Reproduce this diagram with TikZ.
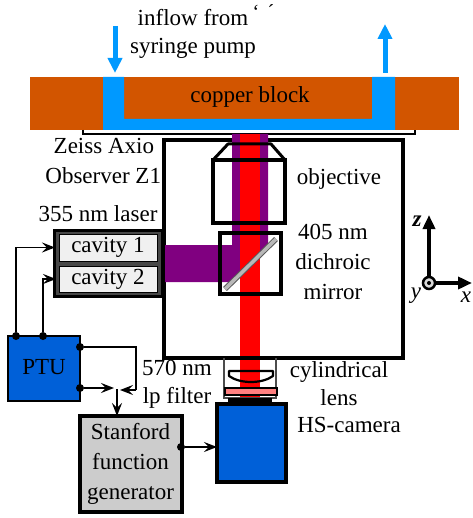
\documentclass[tikz,border=0pt]{standalone}
\usepackage{fontspec}
\setmainfont{Liberation Serif}
\usetikzlibrary{arrows.meta,calc}
\definecolor{copperc}{HTML}{D25500}
\definecolor{chanc}{HTML}{0099FF}
\definecolor{beamp}{HTML}{800080}
\definecolor{camblue}{HTML}{0060D8}
\definecolor{pinkf}{HTML}{FF8080}
\tikzset{
  x=1pt,y=-1pt,
  every node/.style={font=\fontsize{23}{25}\selectfont,inner sep=0pt,outer sep=0pt,text=black},
  lbl/.style={anchor=center},
  sig/.style={line width=1.6pt,draw=black,-{Stealth[length=13pt,width=10pt,inset=5pt]}},
  wire/.style={line width=1.6pt,draw=black},
  flow/.style={line width=5pt,draw=chanc,-{Stealth[length=15pt,width=14pt,inset=0pt]}},
  thick box/.style={draw=black,line width=3.5pt},
  hub/.style={circle,fill=black,minimum size=8pt},
  axisl/.style={line width=3.5pt,draw=black,-{Stealth[length=14pt,width=12pt,inset=0pt]}},
  cavity/.style={draw=black,line width=1pt,fill=black!6,minimum width=98pt}
}
\begin{document}
\begin{tikzpicture}
\useasboundingbox (0,0) rectangle (472,518);
\fill[white] (0,0) rectangle (472,518);
% copper block and channel
\fill[copperc] (30,77) rectangle (459,130);
\fill[chanc] (103,77) -- (124,77) -- (124,119) -- (372,119) -- (372,77) -- (395,77) -- (395,130) -- (103,130) -- cycle;
\node[lbl] (copper) at (250,97) {copper block};
\draw[line width=1.6pt] (83,130) -- (83,134) -- (415,134) -- (415,130);
% flow arrows
\coordinate (inA) at (115,26); \coordinate (inB) at (115,73);
\coordinate (outA) at (385,73); \coordinate (outB) at (385,24);
\draw[flow] (inA) -- (inB);
\draw[flow] (outA) -- (outB);
\node[lbl] (inflow) at (193,18) {inflow from};
\node[lbl] (syringe) at (193,48) {syringe pump};
\node[font=\fontsize{20}{20}\selectfont] (tickl) at (256,12) {`};
\node[font=\fontsize{20}{20}\selectfont] (tickr) at (271,12) {´};
% microscope box
\node[draw=black,line width=3.5pt,minimum width=239pt,minimum height=218pt] (scope) at (283.5,249) {};
% beams
\fill[beamp] (232,134) -- (268,134) -- (268,247) -- (232,282) -- (165,282) -- (165,245) -- (232,245) -- cycle;
\fill[red] (240,134) rectangle (260,398);
\draw[line width=3.5pt] (scope.south west) -- (scope.south east);
% objective
\node[thick box,minimum width=72pt,minimum height=63pt] (obj) at (249,191.5) {};
\draw[line width=3pt,line join=round] (obj.north west) -- (228,144) -- (271,144) -- (obj.north east);
% mirror
\node[thick box,minimum width=61pt,minimum height=61pt] (mirror) at (250.5,263.5) {};
\draw[line width=5.5pt,draw=black!65] (225,289) -- (276,239);
\draw[line width=3.5pt,draw=black!28] (225,289) -- (276,239);
% laser
\node[draw=black,line width=3pt,fill=black!72,minimum width=108pt,minimum height=66pt] (laser) at (108,263) {};
\node[cavity,minimum height=27pt] (cav1) at (108,247.5) {cavity 1};
\node[cavity,minimum height=26pt] (cav2) at (108,279) {\raisebox{3pt}{cavity 2}};
\node[lbl] (l355) at (98,214) {355 nm laser};
% housing, lens, filter
\draw[line width=1.2pt,draw=black!70] (224,358) -- (224,398) -- (276,398) -- (276,358);
\draw[line width=2.2pt,line join=round] (229,371) -- (273,371) -- (273,376) .. controls (262,384) and (240,384) .. (229,376) -- cycle;
\draw[line width=1.4pt,fill=pinkf] (225,388) rectangle (277,395);
\fill[black] (228,398) rectangle (272,404);
% camera
\node[draw=black,line width=4pt,fill=camblue,minimum width=69pt,minimum height=78pt] (cam) at (251.5,443) {};
% PTU
\node[draw=black,line width=1.5pt,fill=camblue,minimum width=72pt,minimum height=65pt] (ptu) at (44,368.5) {\raisebox{3.5pt}{PTU}};
% Stanford
\node[draw=black,line width=4pt,fill=black!20,minimum width=102pt,minimum height=96pt,align=center,font=\fontsize{23}{30}\selectfont] (sfg) at (130.5,464) {Stanford\\function\\generator};
% hubs
\node[hub] (p1) at (16,336) {};
\node[hub] (p2) at (43,336) {};
\node[hub] (p3) at (80,347) {};
\node[hub] (p4) at (80,388) {};
\node[hub] (s1) at (181,447) {};
\coordinate (bend) at (136,390);
\coordinate (merge) at (117,389);
% connectors
\draw[sig,shorten >=4pt] (p1) |- (cav1.west);
\draw[sig,shorten >=3pt] (p2) |- (cav2.west);
\draw[wire] (p3) -| (bend);
\draw[sig] (bend) -- (120,390);
\draw[sig] (p4) -- (114,388);
\draw[sig] (merge) -- (sfg.north -| merge);
\draw[sig] (s1) -- (s1 -| cam.west);
% labels
\node[lbl,anchor=east] (zeiss) at (154,146) {Zeiss Axio};
\node[lbl,anchor=east] (obs) at (161,176) {Observer Z1};
\node[lbl] (objl) at (339,179) {objective};
\node[lbl] (m1) at (333,232) {405 nm};
\node[lbl] (m2) at (333,262) {dichroic};
\node[lbl] (m3) at (333,292) {mirror};
\node[lbl] (f1) at (177,368) {570 nm};
\node[lbl] (f2) at (177,398) {lp filter};
\node[lbl] (c1) at (339,372) {cylindrical};
\node[lbl] (c2) at (339,398) {lens};
\node[lbl] (c3) at (349,425) {HS-camera};
% axes
\node[circle,draw=black,line width=2.5pt,minimum size=12pt,fill=black!15] (orig) at (429,283) {};
\node[circle,fill=black,minimum size=4pt] (origd) at (429,283) {};
\coordinate (zend) at (429,215); \coordinate (xend) at (472,283);
\draw[axisl] (orig) -- (zend);
\draw[axisl] (orig) -- (xend);
\node[lbl] (zl) at (417,221) {\itshape\bfseries z};
\node[lbl] (yl) at (416,296) {\itshape y};
\node[lbl] (xl) at (466,297) {\itshape x};
\end{tikzpicture}
\end{document}
